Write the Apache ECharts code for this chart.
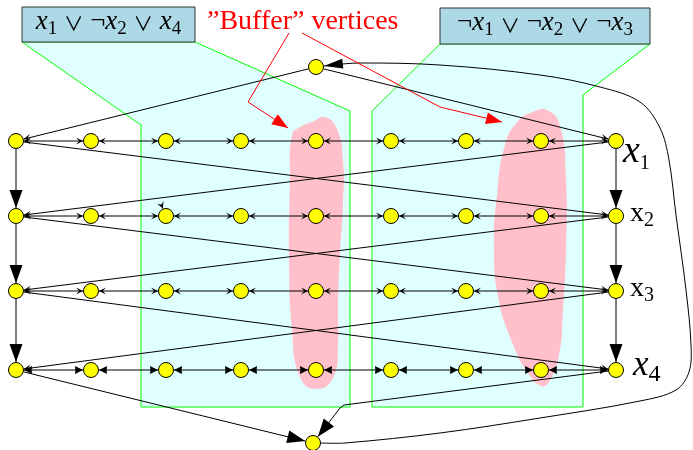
<!DOCTYPE html>
<html><head><meta charset="utf-8">
<script src="https://cdn.jsdelivr.net/npm/echarts@6/dist/echarts.min.js"></script>
<style>html,body{margin:0;padding:0;background:#fff}#c{width:693px;height:450px}</style>
</head><body><div id="c"></div>
<script>
// ---------- data ----------
const colX = [16, 91, 166, 241, 316, 391, 466, 541, 616];
const rowY = [141, 216, 291, 370];
const topNode = [316, 67];
const bottomNode = [313, 443];
const varMain = ['x', 'x', 'x', 'x'];
const varSub = ['1', '2', '3', '4'];
const varItalic = [true, false, false, true];
const clauseLits = [
  [['', '1'], ['¬', '2'], ['', '4']],
  [['¬', '1'], ['¬', '2'], ['¬', '3']]
];
const clauseBoxX = [[22, 195], [440, 650]];
const clauseBoxY = [[7, 42], [8, 44]];
const regionLeft = [[22, 42], [141, 125], [141, 407], [350, 407], [350, 111], [195, 42]];
const regionRight = [[440, 44], [372, 111], [372, 407], [583, 407], [583, 95], [650, 44]];
const blobLeft = [[325, 117], [337, 129], [343, 160], [343, 205], [340, 255], [338, 305], [338, 345], [333, 378], [316, 389], [300, 377], [292, 330], [289, 255], [290, 180], [292, 135], [300, 127], [312, 122]];
const blobRight = [[547, 110], [560, 126], [566, 180], [566, 250], [563, 310], [559, 355], [549, 382], [541, 386], [528, 373], [512, 342], [498, 296], [494, 245], [497, 195], [505, 145], [518, 121], [533, 112]];
const bufferText = '\u201DBuffer\u201D vertices';
const bufferArrow1 = [[289, 33], [248, 102], [288, 128]];
const bufferArrow2 = [[302, 33], [440, 107], [502, 122]];
const returnCurve = [[345, 443], [440, 433], [540, 418], [640, 401], [676, 390], [689, 372], [691, 345], [686, 290], [676, 215], [669, 160], [660, 128], [640, 102], [600, 87], [540, 75], [440, 65], [360, 63], [332, 65]];
const x4Route = [[344, 405], [340, 408]];
const stubArrow = [[161, 204], [166, 216]];

// ---------- helpers ----------
const FONT = 'Liberation Serif';
const OPFONT = "'Noto Sans CJK JP', 'Noto Sans CJK SC', 'DejaVu Sans'";
const K = 0.8375;
const KO = 0.88;
const ARROWS = {
  small: {L: 7, W: 3.5, n: 0.45},
  tri: {L: 8, W: 4, n: 0.05},
  big: {L: 18, W: 6.5, n: 0},
  bigN: {L: 19, W: 5, n: 0},
  red: {L: 16, W: 6, n: 0}
};
function unit(a, b) { const dx = b[0] - a[0], dy = b[1] - a[1]; const l = Math.hypot(dx, dy) || 1; return [dx / l, dy / l]; }
function arrowShape(tip, from, t) {
  const d = unit(from, tip), a = ARROWS[t];
  const bx = tip[0] - d[0] * a.L, by = tip[1] - d[1] * a.L;
  const px = -d[1], py = d[0];
  const ix = tip[0] - d[0] * a.L * (1 - a.n), iy = tip[1] - d[1] * a.L * (1 - a.n);
  return [tip, [bx + px * a.W, by + py * a.W], [ix, iy], [bx - px * a.W, by - py * a.W]];
}

// ---------- edges ----------
const edges = [];
const BLACK = '#000';
for (let r = 0; r < rowY.length; r++) {
  for (let c = 0; c < colX.length - 1; c++) {
    const t = r < 3 ? 'small' : 'tri';
    edges.push({pts: [[colX[c], rowY[r]], [colX[c + 1], rowY[r]]], nodeS: true, nodeE: true, s: t, e: t, color: BLACK});
  }
}
[0, colX.length - 1].forEach(c => {
  for (let r = 0; r < rowY.length - 1; r++) {
    edges.push({pts: [[colX[c], rowY[r]], [colX[c], rowY[r + 1]]], nodeS: true, nodeE: true, e: 'big', color: BLACK});
  }
});
const last = colX.length - 1;
for (let r = 0; r < rowY.length - 1; r++) {
  edges.push({pts: [[colX[0], rowY[r]], [colX[last], rowY[r + 1]]], nodeS: true, nodeE: true, e: 'small', color: BLACK});
  edges.push({pts: [[colX[last], rowY[r]], [colX[0], rowY[r + 1]]], nodeS: true, nodeE: true, e: 'small', color: BLACK});
}
edges.push({pts: [topNode, [colX[0], rowY[0]]], nodeS: true, nodeE: true, e: 'small', color: BLACK});
edges.push({pts: [topNode, [colX[last], rowY[0]]], nodeS: true, nodeE: true, e: 'small', color: BLACK});
edges.push({pts: [[colX[0], rowY[3]], bottomNode], nodeS: true, nodeE: true, e: 'big', color: BLACK});
edges.push({pts: [[colX[last], rowY[3]]].concat(x4Route, [bottomNode]), nodeS: true, nodeE: true, e: 'big', color: BLACK});
edges.push({pts: [bottomNode].concat(returnCurve, [topNode]), nodeS: true, nodeE: true, e: 'bigN', smooth: 0.35, color: BLACK});
edges.push({pts: stubArrow, nodeS: false, nodeE: true, e: 'small', color: BLACK});

const redEdges = [
  {pts: bufferArrow1, e: 'red', color: '#FF0000'},
  {pts: bufferArrow2, e: 'red', color: '#FF0000'}
];

function edgeRenderer(list) {
  return function (params, api) {
    const ed = list[params.dataIndex];
    const pts = ed.pts.map(p => api.coord(p));
    const n = pts.length, R = 8;
    if (ed.nodeS) { const d = unit(pts[0], pts[1]); pts[0] = [pts[0][0] + d[0] * R, pts[0][1] + d[1] * R]; }
    if (ed.nodeE) { const d = unit(pts[n - 1], pts[n - 2]); pts[n - 1] = [pts[n - 1][0] + d[0] * R, pts[n - 1][1] + d[1] * R]; }
    const children = [{type: 'polyline', shape: {points: pts, smooth: ed.smooth || 0}, style: {stroke: ed.color, lineWidth: 1, fill: null}}];
    if (ed.s) children.push({type: 'polygon', shape: {points: arrowShape(pts[0], pts[1], ed.s)}, style: {fill: ed.color}});
    if (ed.e) children.push({type: 'polygon', shape: {points: arrowShape(pts[n - 1], pts[n - 2], ed.e)}, style: {fill: ed.color}});
    return {type: 'group', children};
  };
}

// ---------- text ----------
function mathText(api, x, baseline, align, parts, F, f, drop, fill) {
  const P = K * F + drop - K * f;
  const p = api.coord([x, baseline]);
  const FO = F * 0.72;
  const rich = {
    m: {fontFamily: FONT, fontStyle: 'italic', fontSize: F, verticalAlign: 'top', fill},
    r: {fontFamily: FONT, fontSize: F, verticalAlign: 'top', fill},
    o: {fontFamily: OPFONT, fontSize: FO, verticalAlign: 'top', padding: [Math.max(0, K * F - KO * FO), 0, 0, 0], fill},
    s: {fontFamily: FONT, fontSize: f, verticalAlign: 'top', padding: [P, 0, 0, 0], fill}
  };
  const text = parts.map(([t, k]) => '{' + k + '|' + t + '}').join('');
  return {type: 'text', style: {text, x: p[0], y: p[1] - K * F, align, verticalAlign: 'top', rich, fill, fontFamily: FONT, fontSize: F}};
}

const textItems = [];
// variable labels
const varLabelSpec = [
  {x: 623, base: 165, F: 38, f: 20, drop: 5},
  {x: 630, base: 223, F: 28, f: 20, drop: 4},
  {x: 630, base: 298, F: 28, f: 20, drop: 4},
  {x: 633, base: 378, F: 35, f: 24, drop: 5}
];
varMain.forEach((m, i) => {
  textItems.push(api => {
    const s = varLabelSpec[i];
    return mathText(api, s.x, s.base, 'left', [[m, varItalic[i] ? 'm' : 'r'], [varSub[i], 's']], s.F, s.f, s.drop, '#000');
  });
});
// clause texts
clauseLits.forEach((lits, ci) => {
  textItems.push(api => {
    const parts = [];
    lits.forEach((l, li) => {
      if (li > 0) { parts.push([' ', 'r']); parts.push(['\u2228', 'o']); parts.push([' ', 'r']); }
      if (l[0]) parts.push([l[0], 'r']);
      parts.push(['x', 'm']);
      parts.push([l[1], 's']);
    });
    const cx = (clauseBoxX[ci][0] + clauseBoxX[ci][1]) / 2;
    const cy = (clauseBoxY[ci][0] + clauseBoxY[ci][1]) / 2;
    return mathText(api, cx, cy + 6.5, 'center', parts, 27, 19, 4, '#000');
  });
});
// annotation
textItems.push(api => mathText(api, 207, 31, 'left', [[bufferText, 'r']], 28, 18, 0, '#FF0000'));

// ---------- chart ----------
const chart = echarts.init(document.getElementById('c'), null, {renderer: 'canvas'});
const nodeData = [];
rowY.forEach(y => colX.forEach(x => nodeData.push([x, y])));
nodeData.push(topNode, bottomNode);

chart.setOption({
  animation: false,
  grid: {left: 0, right: 0, top: 0, bottom: 0},
  xAxis: {type: 'value', min: 0, max: 693, show: false},
  yAxis: {type: 'value', min: 0, max: 450, inverse: true, show: false},
  series: [
    {
      type: 'custom', z: 1, silent: true,
      data: [regionLeft, regionRight].map(r => r[0]),
      renderItem: (params, api) => {
        const poly = [regionLeft, regionRight][params.dataIndex];
        return {type: 'polygon', shape: {points: poly.map(p => api.coord(p))}, style: {fill: '#E0FFFF', stroke: '#00FF00', lineWidth: 1}};
      }
    },
    {
      type: 'custom', z: 2, silent: true,
      data: [blobLeft, blobRight].map(r => r[0]),
      renderItem: (params, api) => {
        const poly = [blobLeft, blobRight][params.dataIndex];
        return {type: 'polygon', shape: {points: poly.map(p => api.coord(p)), smooth: 0.5}, style: {fill: '#FFC0CB', stroke: null}};
      }
    },
    {
      type: 'custom', z: 3, silent: true,
      data: clauseBoxX.map((b, i) => [b[0], clauseBoxY[i][0]]),
      renderItem: (params, api) => {
        const i = params.dataIndex;
        const a = api.coord([clauseBoxX[i][0], clauseBoxY[i][0]]);
        const b = api.coord([clauseBoxX[i][1], clauseBoxY[i][1]]);
        return {type: 'rect', shape: {x: a[0], y: a[1], width: b[0] - a[0], height: b[1] - a[1]}, style: {fill: '#ADD8E6', stroke: '#333', lineWidth: 1}};
      }
    },
    {
      type: 'custom', z: 4, silent: true,
      data: edges.map(e => e.pts[0]),
      renderItem: edgeRenderer(edges)
    },
    {
      type: 'scatter', z: 5, silent: true,
      data: nodeData, symbol: 'circle', symbolSize: 15,
      itemStyle: {color: '#FFFF00', borderColor: '#000', borderWidth: 1, opacity: 1}
    },
    {
      type: 'custom', z: 6, silent: true,
      data: textItems.map(() => [0, 0]),
      renderItem: (params, api) => textItems[params.dataIndex](api)
    },
    {
      type: 'custom', z: 7, silent: true,
      data: redEdges.map(e => e.pts[0]),
      renderItem: edgeRenderer(redEdges)
    }
  ]
});
</script></body></html>
